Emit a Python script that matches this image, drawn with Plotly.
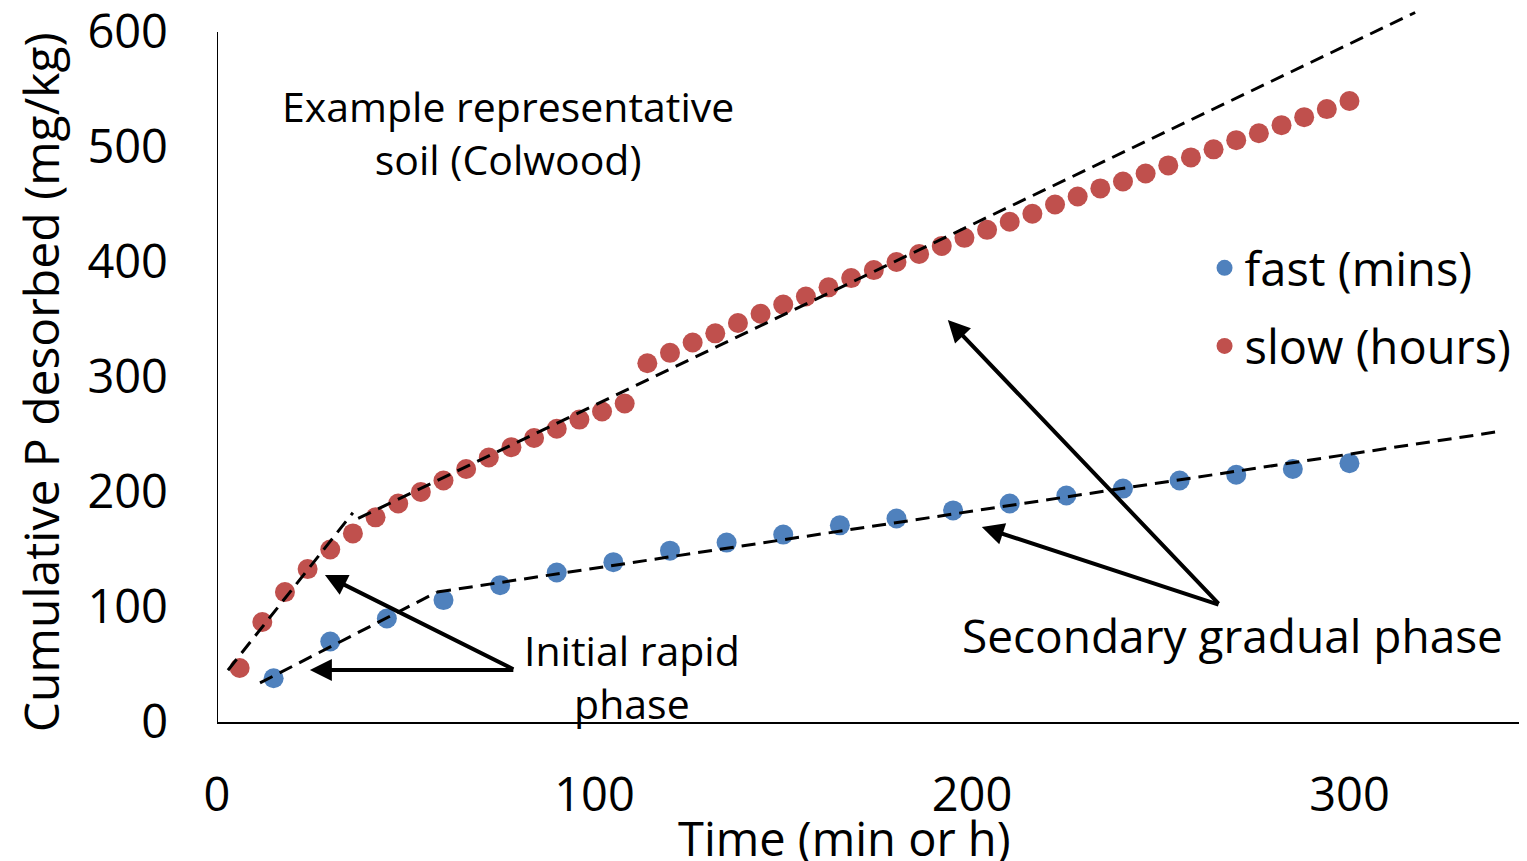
import plotly.graph_objects as go

# ---- data ----
fast_t = [15, 30, 45, 60, 75, 90, 105, 120, 135, 150, 165, 180, 195, 210,
          225, 240, 255, 270, 285, 300]
fast_p = [38, 70, 90, 106, 119, 130, 139, 149, 156, 163, 171, 177, 184, 190,
          197, 203, 210, 215, 220, 225]

slow_t = [6, 12, 18, 24, 30, 36, 42, 48, 54, 60, 66, 72, 78, 84, 90, 96, 102,
          108, 114, 120, 126, 132, 138, 144, 150, 156, 162, 168, 174, 180, 186,
          192, 198, 204, 210, 216, 222, 228, 234, 240, 246, 252, 258, 264, 270,
          276, 282, 288, 294, 300]
slow_p = [47, 87, 113, 133, 150, 164, 178, 190, 200, 210, 220, 230, 239, 247,
          255, 263, 270, 277, 312, 321, 330, 338, 347, 355, 363, 370, 378, 386,
          393, 400, 407, 414, 421, 428, 435, 442, 450, 457, 464, 470, 477, 484,
          491, 498, 506, 512, 519, 526, 533, 540]

# phase trend lines (start/end points)
fast_init_t = [11.4, 58.3]
fast_init_p = [34, 113]
fast_sec_t = [58.3, 340.4]
fast_sec_p = [113, 253]
slow_init_t = [2.9, 36.0]
slow_init_p = [45, 182]
slow_sec_t = [37.4, 317.4]
slow_sec_p = [177, 617]

x_ticks = [0, 100, 200, 300]
y_ticks = [0, 100, 200, 300, 400, 500, 600]

x_title = "Time (min or h)"
y_title = "Cumulative P desorbed (mg/kg)"

FONT = "Open Sans"
FS = 41
FS_BIG = 47
BLUE = "#4F81BD"
RED = "#C0504D"

fig = go.Figure()
fig.add_trace(go.Scatter(x=fast_t, y=fast_p, mode="markers", name="fast (mins)",
                         legendgroup="a",
                         marker=dict(color=BLUE, size=20)))
fig.add_trace(go.Scatter(x=slow_t, y=slow_p, mode="markers", name="slow (hours)",
                         legendgroup="b",
                         marker=dict(color=RED, size=20)))

dash_line = dict(color="black", width=3, dash="14px,8px")
for xs, ys in [(fast_init_t, fast_init_p), (fast_sec_t, fast_sec_p),
               (slow_init_t, slow_init_p), (slow_sec_t, slow_sec_p)]:
    fig.add_trace(go.Scatter(x=xs, y=ys, mode="lines", line=dash_line,
                             showlegend=False, hoverinfo="skip"))

annotations = [
    dict(x=77.1, y=513, text="Example representative<br>soil (Colwood)",
         showarrow=False, font=dict(size=FS, family=FONT, color="black")),
    dict(x=110, y=40, text="Initial rapid<br>phase",
         showarrow=False, font=dict(size=FS, family=FONT, color="black")),
    dict(x=268.9, y=75.7, text="Secondary gradual phase",
         showarrow=False, font=dict(size=46, family=FONT, color="black")),
    # axis titles
    dict(xref="paper", yref="paper", x=-0.1353, y=0.476, text=y_title,
         textangle=-90, showarrow=False, xanchor="center", yanchor="middle",
         font=dict(size=48, family=FONT, color="black")),
    dict(xref="paper", yref="paper", x=0.480, y=-0.1625, text=x_title,
         showarrow=False, xanchor="center", yanchor="middle",
         font=dict(size=FS_BIG, family=FONT, color="black")),
]
arrows = [
    ((78.9, 45.2), (28.6, 127.8)),
    ((78.9, 45.2), (24.6, 45.2)),
    ((265.7, 101.7), (193.6, 349.6)),
    ((265.7, 101.7), (202.6, 169.6)),
]
for (tx, ty), (hx, hy) in arrows:
    annotations.append(dict(x=hx, y=hy, ax=tx, ay=ty, xref="x", yref="y",
                            axref="x", ayref="y", text="", showarrow=True,
                            arrowhead=2, arrowsize=1.1, arrowwidth=4,
                            arrowcolor="black"))

fig.update_layout(
    width=1527, height=861,
    margin=dict(l=209, r=10, t=0, b=147),
    paper_bgcolor="white", plot_bgcolor="white",
    font=dict(family=FONT, size=FS, color="black"),
    showlegend=True,
    legend=dict(x=0.755, y=0.688, xanchor="left", yanchor="top",
                font=dict(size=FS_BIG, family=FONT, color="black"),
                bgcolor="rgba(0,0,0,0)", tracegroupgap=14),
    annotations=annotations,
    shapes=[dict(type="line", xref="x", yref="y", x0=0, x1=0, y0=0, y1=600,
                 line=dict(color="black", width=2))],
)
fig.update_xaxes(range=[0, 346.5], tickvals=x_ticks, showgrid=False,
                 zeroline=False, showline=True, linecolor="black", linewidth=2,
                 ticks="", ticklabelstandoff=31, ticklabeloverflow="allow",
                 automargin=False,
                 tickfont=dict(size=FS_BIG, family=FONT, color="black"))
fig.update_yaxes(range=[0, 620.9], tickvals=y_ticks, showgrid=False,
                 zeroline=False, showline=False, ticks="",
                 ticklabelstandoff=48, ticklabeloverflow="allow",
                 automargin=False,
                 tickfont=dict(size=FS_BIG, family=FONT, color="black"))

fig.write_html("out.html")
